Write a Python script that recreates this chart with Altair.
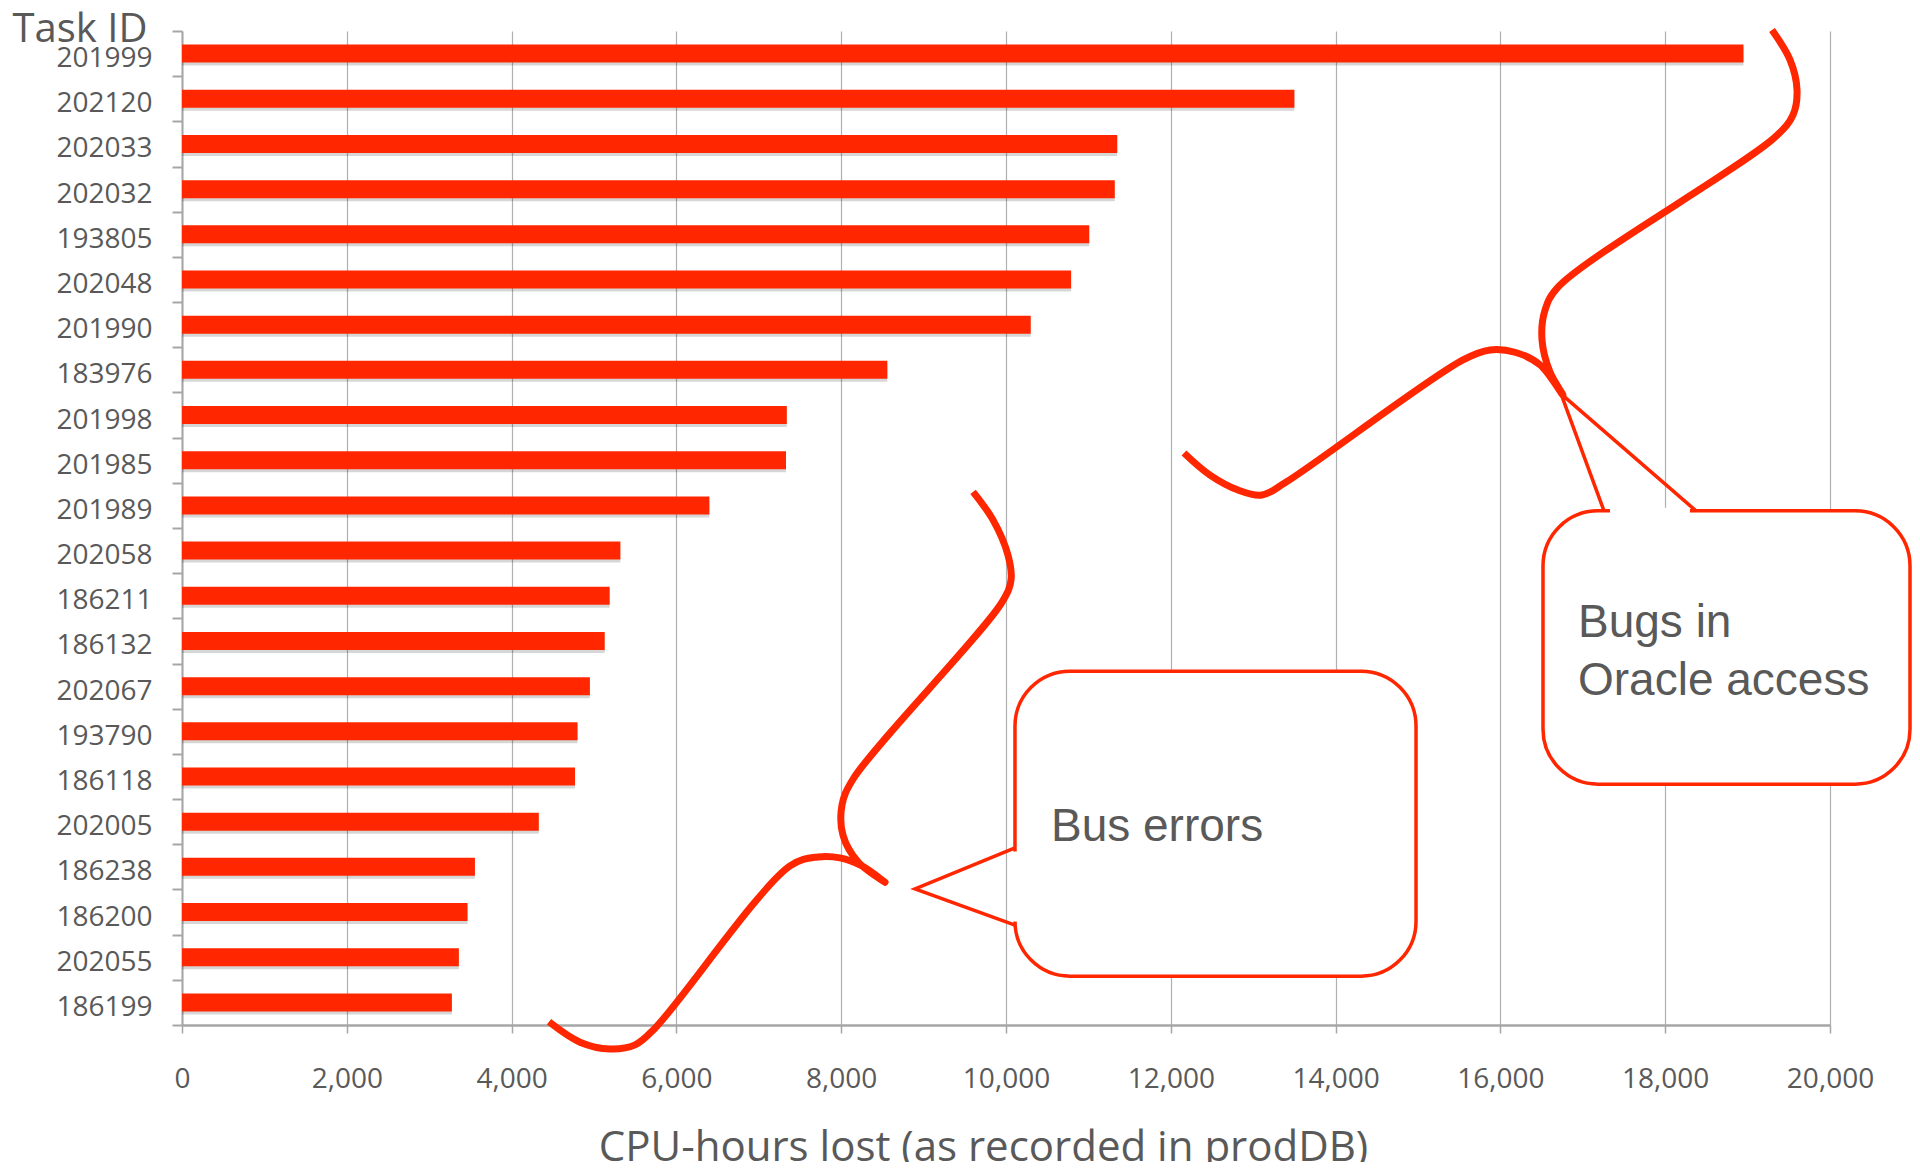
import altair as alt
import pandas as pd

# ---- chart data ----
tasks = ["201999", "202120", "202033", "202032", "193805", "202048", "201990",
         "183976", "201998", "201985", "201989", "202058", "186211", "186132",
         "202067", "193790", "186118", "202005", "186238", "186200", "202055",
         "186199"]
hours = [18950, 13500, 11350, 11320, 11010, 10790, 10300,
         8560, 7340, 7330, 6400, 5320, 5190, 5130,
         4950, 4800, 4770, 4330, 3555, 3465, 3360, 3275]
x_ticks = [0, 2000, 4000, 6000, 8000, 10000, 12000, 14000, 16000, 18000, 20000]
x_tick_labels = ["0", "2,000", "4,000", "6,000", "8,000", "10,000", "12,000",
                 "14,000", "16,000", "18,000", "20,000"]

# ---- annotation shapes (x in CPU-hours, y in row units from top) ----
brace_oracle_x = [19296, 19515, 19600, 19551, 19333, 16699, 16541, 16505, 16602, 16760,
                  16481, 16177, 15874, 15546, 13386, 13107, 12816, 12476, 12160]
brace_oracle_y = [-0.02, 0.64, 1.31, 1.86, 2.35, 5.67, 6.18, 6.84, 7.55, 8.06,
                  7.39, 7.11, 7.06, 7.28, 10.00, 10.27, 10.16, 9.83, 9.34]
brace_bus_x = [9600, 9842, 10024, 10061, 9952, 8143, 8010, 8022, 8204, 8532,
               8252, 7985, 7718, 7379, 5740, 5498, 5194, 4830, 4454]
brace_bus_y = [10.20, 10.82, 11.60, 12.15, 12.64, 16.56, 17.13, 17.80, 18.39, 18.84,
               18.48, 18.30, 18.28, 18.48, 22.07, 22.44, 22.53, 22.38, 21.93]

box_names = ["oracle", "bus"]
box_x1 = [16517, 10109]
box_x2 = [20971, 14976]
box_y1 = [10.62, 14.17]
box_y2 = [16.67, 20.92]

ptr_oracle_x = [17257, 16736, 18374]
ptr_oracle_y = [10.62, 8.03, 10.62]
ptr_bus_x = [10109, 8896, 10109]
ptr_bus_y = [18.08, 18.99, 19.79]

cover_x1 = [17330, 10109]
cover_x2 = [18300, 10109]
cover_y1 = [10.62, 18.16]
cover_y2 = [10.62, 19.71]

label_texts = ["Bugs in", "Oracle access", "Bus errors"]
label_x = [16942, 16942, 10546]
label_y = [13.41, 14.70, 17.93]

RED = "#ff2600"
GRAY_TXT = "#595959"
AXIS_GRAY = "#a6a6a6"

bars_df = pd.DataFrame({"task": tasks, "hours": hours})

braces_df = pd.DataFrame({
    "x": brace_oracle_x + brace_bus_x,
    "y": brace_oracle_y + brace_bus_y,
    "i": list(range(len(brace_oracle_x))) + list(range(len(brace_bus_x))),
    "name": ["oracle"] * len(brace_oracle_x) + ["bus"] * len(brace_bus_x),
})
boxes_df = pd.DataFrame({"name": box_names, "x": box_x1, "x2": box_x2, "y": box_y1, "y2": box_y2})
ptr_df = pd.DataFrame({
    "x": ptr_oracle_x + ptr_bus_x,
    "y": ptr_oracle_y + ptr_bus_y,
    "i": [0, 1, 2, 0, 1, 2],
    "name": ["oracle"] * 3 + ["bus"] * 3,
})
cover_df = pd.DataFrame({"x": cover_x1, "x2": cover_x2, "y": cover_y1, "y2": cover_y2})
text_df = pd.DataFrame({"t": label_texts, "x": label_x, "y": label_y})

xs = alt.Scale(domain=[0, 20000], nice=False, zero=False)
ys = alt.Scale(domain=[0, 22], reverse=True, nice=False, zero=False)

label_lookup = "{" + ", ".join(f"'{v}': '{l}'" for v, l in zip(x_ticks, x_tick_labels)) + "}"
x_label_expr = f"{label_lookup}[toString(datum.value)]"

y_enc = alt.Y(
    "task:N", sort=None,
    scale=alt.Scale(paddingInner=0, paddingOuter=0),
    axis=alt.Axis(
        title="Task ID", titleAngle=0, titleAlign="left", titleBaseline="alphabetic",
        titleX=-170, titleY=10, titleFont="Open Sans", titleFontSize=40,
        titleFontWeight="normal", titleColor=GRAY_TXT,
        labelFont="Open Sans", labelFontSize=28, labelColor=GRAY_TXT,
        labelBaseline="alphabetic", labelOffset=13, labelPadding=20,
        tickBand="extent", tickSize=10, tickColor=AXIS_GRAY, tickWidth=2,
        domainColor=AXIS_GRAY, domainWidth=2, grid=False,
    ),
)
x_enc = alt.X(
    "hours:Q", scale=xs,
    axis=alt.Axis(
        values=x_ticks, labelExpr=x_label_expr, grid=True, gridColor="#b0b0b0", gridWidth=1.2,
        labelFont="Open Sans", labelFontSize=28, labelColor=GRAY_TXT,
        labelBaseline="alphabetic", labelPadding=54, labelFlush=False,
        tickSize=8, tickColor=AXIS_GRAY, tickWidth=1.5,
        domainColor=AXIS_GRAY, domainWidth=2.5,
        title="CPU-hours lost (as recorded in prodDB)", titleFont="Open Sans",
        titleFontSize=42, titleFontWeight="normal", titleColor=GRAY_TXT,
        titleX=801, titleY=135, titleAlign="center", titleBaseline="alphabetic",
    ),
)

shadow = alt.Chart(bars_df).mark_bar(
    size=18, color="#000000", opacity=0.16, yOffset=3, x2Offset=3
).encode(x=alt.X("hours:Q", scale=xs, axis=None),
         y=alt.Y("task:N", sort=None, scale=alt.Scale(paddingInner=0, paddingOuter=0), axis=None))

bars = alt.Chart(bars_df).mark_bar(size=18, color=RED).encode(x=x_enc, y=y_enc)

braces = alt.Chart(braces_df).mark_line(
    color=RED, strokeWidth=7, interpolate="catmull-rom", strokeCap="butt", strokeJoin="round"
).encode(
    x=alt.X("x:Q", scale=xs, axis=None),
    y=alt.Y("y:Q", scale=ys, axis=None),
    order="i:Q", detail="name:N",
)

boxes = alt.Chart(boxes_df).mark_rect(
    fill="white", stroke=RED, strokeWidth=3.5, cornerRadius=55
).encode(
    x=alt.X("x:Q", scale=xs, axis=None), x2="x2:Q",
    y=alt.Y("y:Q", scale=ys, axis=None), y2="y2:Q",
)

cover = alt.Chart(cover_df).mark_rule(color="white", strokeWidth=6).encode(
    x=alt.X("x:Q", scale=xs, axis=None), x2="x2:Q",
    y=alt.Y("y:Q", scale=ys, axis=None), y2="y2:Q",
)

pointers = alt.Chart(ptr_df).mark_line(color=RED, strokeWidth=3.5, strokeJoin="miter").encode(
    x=alt.X("x:Q", scale=xs, axis=None),
    y=alt.Y("y:Q", scale=ys, axis=None),
    order="i:Q", detail="name:N",
)

texts = alt.Chart(text_df).mark_text(
    align="left", baseline="alphabetic", font="Liberation Sans", fontSize=46, color=GRAY_TXT
).encode(
    x=alt.X("x:Q", scale=xs, axis=None),
    y=alt.Y("y:Q", scale=ys, axis=None),
    text="t:N",
)

chart = alt.layer(shadow, bars, braces, boxes, cover, pointers, texts).resolve_scale(
    x="independent", y="independent"
).properties(
    width=1648, height=994,
    autosize=alt.AutoSizeParams(type="none"),
    padding={"left": 174, "top": 23, "right": 82, "bottom": 137},
    background="white",
).configure_view(stroke=None)

chart.save("out.html", embed_options={"renderer": "svg", "actions": False})
